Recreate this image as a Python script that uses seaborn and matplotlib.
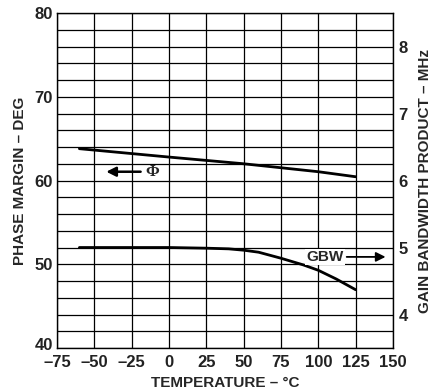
import matplotlib
matplotlib.use("Agg")
import matplotlib.pyplot as plt
from matplotlib.ticker import MultipleLocator
from matplotlib.transforms import ScaledTranslation
import seaborn as sns
import pandas as pd

# Phase margin (deg) vs temperature
temps_phase = [-60, 0, 50, 100, 125]
phase_margin = [63.8, 62.8, 62.0, 61.05, 60.45]

# Gain bandwidth product (MHz) vs temperature
temps_gbw = [-60, 0, 25, 40, 50, 60, 75, 90, 100, 112, 125]
gbw = [5.0, 5.0, 4.99, 4.98, 4.96, 4.93, 4.84, 4.74, 4.66, 4.53, 4.37]

x_ticks = [-75, -50, -25, 0, 25, 50, 75, 100, 125, 150]
left_ticks = [40, 50, 60, 70, 80]
right_ticks = [4, 5, 6, 7, 8]

sns.set_style("white")
plt.rcParams["font.family"] = ["Liberation Sans", "DejaVu Sans"]
plt.rcParams["font.weight"] = "bold"

fig = plt.figure(figsize=(4.33, 3.92), dpi=100)
ax = fig.add_axes([0.1316, 0.1122, 0.776, 0.8546])

df_pm = pd.DataFrame({"temp": temps_phase, "pm": phase_margin})
df_gbw = pd.DataFrame({"temp": temps_gbw, "gbw": gbw})

sns.lineplot(data=df_pm, x="temp", y="pm", ax=ax, color="black", linewidth=2.0)

ax.set_xlim(-75, 150)
ax.set_ylim(40, 80)
ax.set_xticks(x_ticks)
ax.set_xticklabels([f"{t}".replace("-", "\u2013") for t in x_ticks])
ax.set_yticks(left_ticks)
ax.yaxis.set_minor_locator(MultipleLocator(2))
ax.grid(True, which="both", axis="y", color="black", linewidth=0.9)
ax.grid(True, which="major", axis="x", color="black", linewidth=0.9)
ax.tick_params(axis="both", which="both", length=0, labelsize=12)
ax.tick_params(axis="x", pad=5)
ax.tick_params(axis="y", pad=3)
for lab in ax.get_xticklabels() + ax.get_yticklabels():
    lab.set_fontweight("bold")
    lab.set_color("#222222")
# lift the corner "40" slightly so it clears the first temperature label
bottom_lab = ax.get_yticklabels()[0]
bottom_lab.set_transform(bottom_lab.get_transform() + ScaledTranslation(0, 3 / 72, fig.dpi_scale_trans))
for s in ax.spines.values():
    s.set_color("black")
    s.set_linewidth(1.0)
ax.set_xlabel("TEMPERATURE \u2013 \u00b0C", fontsize=11, fontweight="bold", labelpad=4)
ax.set_ylabel("PHASE MARGIN \u2013 DEG", fontsize=11, fontweight="bold", labelpad=5)

ax2 = ax.twinx()
sns.lineplot(data=df_gbw, x="temp", y="gbw", ax=ax2, color="black", linewidth=2.0)
ax2.set_ylim(3.5, 8.5)
ax2.set_yticks(right_ticks)
ax2.tick_params(axis="y", length=0, labelsize=12, pad=4)
for lab in ax2.get_yticklabels():
    lab.set_fontweight("bold")
    lab.set_color("#222222")
ax2.set_ylabel("GAIN BANDWIDTH PRODUCT \u2013 MHz", fontsize=11, fontweight="bold", labelpad=7)
for s in ax2.spines.values():
    s.set_visible(False)

# Series labels with arrows pointing to their axes
ax.annotate("", xy=(-42, 61.05), xytext=(-19, 61.05),
            arrowprops=dict(arrowstyle="-|>", color="black", lw=1.8,
                            mutation_scale=14, shrinkA=0, shrinkB=0))
ax.text(-11, 61.05, "\u03a6", fontsize=12, fontweight="bold", ha="center", va="center",
        family=["Liberation Serif", "DejaVu Serif"])

ax2.text(104.5, 4.86, "GBW", fontsize=11, fontweight="bold", ha="center", va="center",
         bbox=dict(facecolor="white", edgecolor="none", pad=1.0))
ax2.annotate("", xy=(145, 4.86), xytext=(119, 4.86),
             arrowprops=dict(arrowstyle="-|>", color="black", lw=1.3,
                             mutation_scale=14, shrinkA=0, shrinkB=0))

fig.savefig("out.png", dpi=100)
